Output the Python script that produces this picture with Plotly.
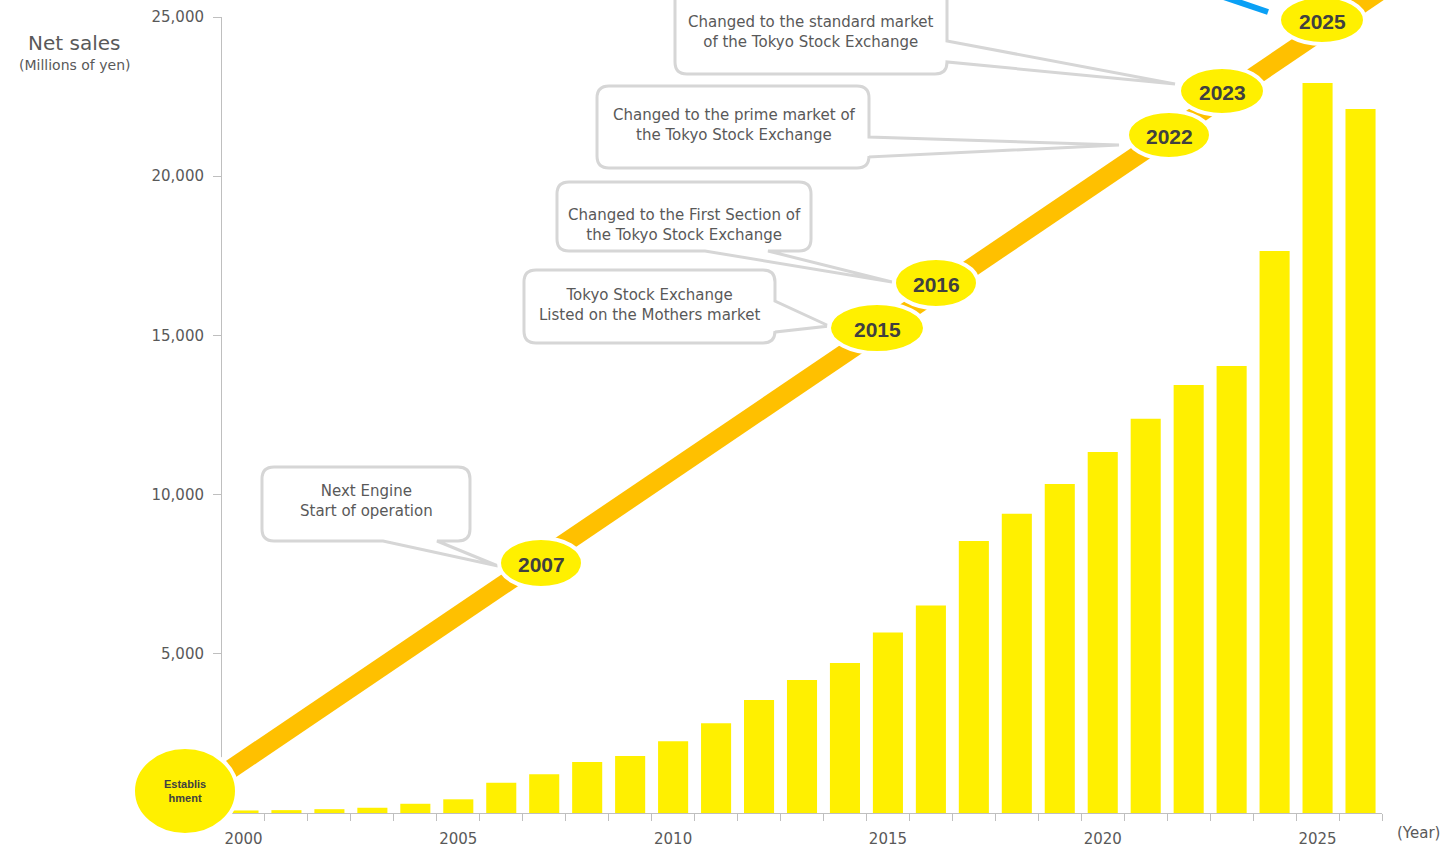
import plotly.graph_objects as go

# ---- data -------------------------------------------------------------
years = list(range(2000, 2027))
net_sales = [80, 90, 120, 165, 290, 430, 950, 1215, 1600, 1790,
             2250, 2820, 3550, 4180, 4710, 5670, 6520, 8540, 9400, 10330,
             11340, 12380, 13440, 14040, 17650, 22930, 22110]

y_tick_values = [5000, 10000, 15000, 20000, 25000]
x_label_years = [2000, 2005, 2010, 2015, 2020, 2025]

milestone_years = ["2007", "2015", "2016", "2022", "2023", "2025"]
milestone_events = [
    "Next Engine<br>Start of operation",
    "Tokyo Stock Exchange<br>Listed on the Mothers market",
    "Changed to the First Section of<br>the Tokyo Stock Exchange",
    "Changed to the prime market of<br>the Tokyo Stock Exchange",
    "Changed to the standard market<br>of the Tokyo Stock Exchange",
]

# ---- page geometry ----------------------------------------------------
W, H = 1443, 847
ML, MR, MT, MB = 222, 61, 17, 34
PW, PH = W - ML - MR, H - MT - MB

BAR_YELLOW = "#FFF000"
BAND_ORANGE = "#FFC000"
TEXT_GRAY = "#595959"
LABEL_DARK = "#404040"
AXIS_GRAY = "#BFBFBF"
BOX_GRAY = "#D6D6D6"
FONT = "DejaVu Sans"


def px(x):
    return (x - ML) / PW


def py(y):
    return (H - MB - y) / PH


def pt(x, y):
    return f"{px(x):.5f},{py(y):.5f}"


def callout_path(x0, y0, x1, y1, r, side, a0, a1, tip):
    tx, ty = tip
    p = [f"M{pt(x0 + r, y0)}", f"L{pt(x1 - r, y0)}",
         f"Q{pt(x1, y0)} {pt(x1, y0 + r)}"]
    if side == "right":
        p += [f"L{pt(x1, a0)}", f"L{pt(tx, ty)}", f"L{pt(x1, a1)}"]
    p += [f"L{pt(x1, y1 - r)}", f"Q{pt(x1, y1)} {pt(x1 - r, y1)}"]
    if side == "bottom":
        p += [f"L{pt(a1, y1)}", f"L{pt(tx, ty)}", f"L{pt(a0, y1)}"]
    p += [f"L{pt(x0 + r, y1)}", f"Q{pt(x0, y1)} {pt(x0, y1 - r)}",
          f"L{pt(x0, y0 + r)}", f"Q{pt(x0, y0)} {pt(x0 + r, y0)}", "Z"]
    return " ".join(p)


fig = go.Figure()
fig.add_trace(go.Bar(x=years, y=net_sales, width=0.7,
                     marker=dict(color=BAR_YELLOW, line=dict(width=0)),
                     hoverinfo="skip"))

shapes = []
annotations = []

# growth timeline band
shapes.append(dict(type="line", xref="paper", yref="paper",
                   x0=px(200), y0=py(790), x1=px(1420), y1=py(-36),
                   line=dict(color=BAND_ORANGE, width=19), layer="above"))
# pointer of the callout above the top edge
shapes.append(dict(type="line", xref="paper", yref="paper",
                   x0=px(1209), y0=py(-8), x1=px(1268), y1=py(12),
                   line=dict(color="#0AA0F5", width=6), layer="above"))

# callout boxes: (x0, y0, x1, y1, side, a0, a1, tip, text centre)
callouts = [
    (262, 467, 470, 541, "bottom", 383, 437, (498, 566), (366, 501)),
    (524, 270, 775, 343, "right", 301, 332, (829, 326), (649, 305)),
    (557, 182, 811, 251, "bottom", 705, 768, (892, 282), (684, 225)),
    (597, 86, 869, 168, "right", 137, 157, (1119, 145), (734, 125)),
    (675, -12, 947, 74, "right", 41, 62, (1175, 84), (811, 32)),
]
for (x0, y0, x1, y1, side, a0, a1, tip, tc), text in zip(callouts, milestone_events):
    shapes.append(dict(type="path", xref="paper", yref="paper",
                       path=callout_path(x0, y0, x1, y1, 12, side, a0, a1, tip),
                       fillcolor="white", line=dict(color=BOX_GRAY, width=3),
                       layer="above"))
    annotations.append(dict(xref="paper", yref="paper", x=px(tc[0]), y=py(tc[1]),
                            text=text, showarrow=False, xanchor="center",
                            yanchor="middle", align="center",
                            font=dict(family=FONT, size=15, color=TEXT_GRAY)))

# milestone ellipses: centre and radii
ellipses = [(541, 563, 40, 23), (877, 328, 46, 23), (936, 283, 40, 23),
            (1169, 135, 40, 22), (1222, 91, 41, 22), (1322, 20, 41, 22)]
for (cx, cy, rx, ry), label in zip(ellipses, milestone_years):
    shapes.append(dict(type="circle", xref="paper", yref="paper",
                       x0=px(cx - rx - 2), x1=px(cx + rx + 2),
                       y0=py(cy + ry + 2), y1=py(cy - ry - 2),
                       fillcolor=BAR_YELLOW, line=dict(color="white", width=4),
                       layer="above"))
    annotations.append(dict(xref="paper", yref="paper", x=px(cx), y=py(cy + 1),
                            text=f"<b>{label}</b>", showarrow=False,
                            xanchor="center", yanchor="middle",
                            font=dict(family="Liberation Sans", size=21,
                                      color=LABEL_DARK)))

# establishment marker
shapes.append(dict(type="circle", xref="paper", yref="paper",
                   x0=px(185 - 52), x1=px(185 + 52), y0=py(791 + 44), y1=py(791 - 44),
                   fillcolor=BAR_YELLOW, line=dict(color="white", width=4),
                   layer="above"))
annotations.append(dict(xref="paper", yref="paper", x=px(185), y=py(791),
                        text="<b>Establis<br>hment</b>", showarrow=False,
                        xanchor="center", yanchor="middle",
                        font=dict(family="Liberation Sans", size=11, color=LABEL_DARK)))

# axis titles
annotations += [
    dict(xref="paper", yref="paper", x=px(74), y=py(43), text="Net sales",
         showarrow=False, xanchor="center", yanchor="middle",
         font=dict(family=FONT, size=20, color=TEXT_GRAY)),
    dict(xref="paper", yref="paper", x=px(74), y=py(65), text="(Millions of yen)",
         showarrow=False, xanchor="center", yanchor="middle",
         font=dict(family=FONT, size=14, color=TEXT_GRAY)),
    dict(xref="paper", yref="paper", x=px(1418), y=py(833), text="(Year)",
         showarrow=False, xanchor="center", yanchor="middle",
         font=dict(family=FONT, size=15, color=TEXT_GRAY)),
]

fig.update_layout(
    width=W, height=H,
    margin=dict(l=ML, r=MR, t=MT, b=MB, pad=0, autoexpand=False),
    plot_bgcolor="white", paper_bgcolor="white",
    showlegend=False,
    shapes=shapes, annotations=annotations,
    xaxis=dict(range=[1999.5, 2026.5], tickmode="array", tickvals=x_label_years,
               ticks="", showline=True, linecolor=AXIS_GRAY, linewidth=1,
               showgrid=False, zeroline=False, ticklabelstandoff=12,
               automargin=False,
               tickfont=dict(family=FONT, size=15, color=TEXT_GRAY),
               minor=dict(tickmode="linear", tick0=1999.5, dtick=1,
                          ticks="outside", ticklen=7, tickcolor=AXIS_GRAY,
                          showgrid=False)),
    yaxis=dict(range=[0, 25000], tickmode="array", tickvals=y_tick_values,
               tickformat=",", ticks="outside", ticklen=8, tickcolor=AXIS_GRAY,
               showline=True, linecolor=AXIS_GRAY, linewidth=1,
               showgrid=False, zeroline=False, ticklabelstandoff=6,
               automargin=False,
               tickfont=dict(family=FONT, size=15, color=TEXT_GRAY)),
)

fig.write_html("out.html")
